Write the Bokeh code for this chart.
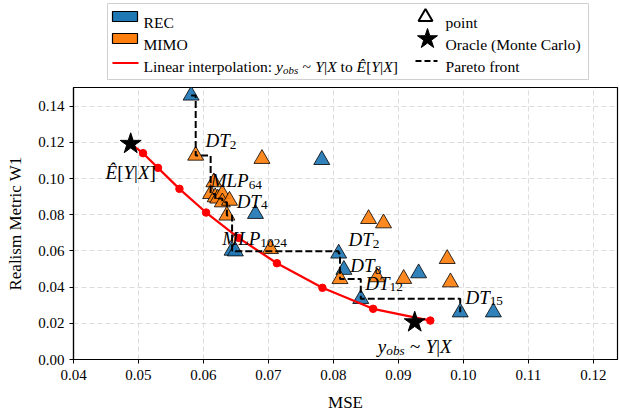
import numpy as np
from bokeh.plotting import figure
from bokeh.models import Range1d, ColumnDataSource, FixedTicker, NumeralTickFormatter
from bokeh.layouts import column
from bokeh.embed import file_html
from bokeh.resources import INLINE
from bokeh.core.properties import value

# ---------------- data ----------------
rec_mse = [0.0581, 0.0782, 0.0680, 0.0644, 0.0649, 0.0808, 0.0816, 0.0931, 0.0842, 0.0995, 0.1046]
rec_w1 = [0.1459, 0.1103, 0.0805, 0.0602, 0.0598, 0.0586, 0.0496, 0.0477, 0.0335, 0.0261, 0.0261]

mimo_mse = [0.0588, 0.0690, 0.0616, 0.0611, 0.0618, 0.0622, 0.0629, 0.0629, 0.0640, 0.0636,
            0.0703, 0.0854, 0.0877, 0.0810, 0.0867, 0.0908, 0.0975, 0.0980]
mimo_w1 = [0.1127, 0.1109, 0.0980, 0.0915, 0.0897, 0.0890, 0.0915, 0.0869, 0.0878, 0.0796,
           0.0611, 0.0777, 0.0753, 0.0445, 0.0455, 0.0446, 0.0556, 0.0427]

interp_mse = [0.0488, 0.0507, 0.0530, 0.0563, 0.0604, 0.0654, 0.0713, 0.0783, 0.0861, 0.0949]
interp_w1 = [0.1192, 0.1140, 0.1059, 0.0943, 0.0812, 0.0672, 0.0532, 0.0396, 0.0280, 0.0215]

oracle_mse = [0.0488, 0.0925]
oracle_w1 = [0.1192, 0.0206]

x_ticks = [0.04, 0.05, 0.06, 0.07, 0.08, 0.09, 0.10, 0.11, 0.12]
y_ticks = [0.00, 0.02, 0.04, 0.06, 0.08, 0.10, 0.12, 0.14]

# annotations: (main, sub, x, y, align)
annotations = [
    ("DT", "2", 0.0603, 0.1210, "left"),
    ("MLP", "64", 0.0611, 0.0989, "left"),
    ("DT", "4", 0.0651, 0.0875, "left"),
    ("MLP", "1024", 0.0629, 0.0667, "left"),
    ("DT", "2", 0.0823, 0.0661, "left"),
    ("DT", "8", 0.0826, 0.0519, "left"),
    ("DT", "12", 0.0849, 0.0422, "left"),
    ("DT", "15", 0.1003, 0.0344, "left"),
]
ehat_label = (0.0488, 0.1035)
yobs_label = (0.0925, 0.0072)

BLUE = "#1f77b4"
ORANGE = "#ff7f0e"
FONT = "Liberation Serif"

# ---------------- text layout helpers ----------------
IT_W = {'D': .722, 'T': .556, 'M': .833, 'L': .556, 'P': .611, 'E': .611, 'Ê': .611,
        'Y': .556, 'X': .611, 'y': .444, 'o': .5, 'b': .5, 's': .389, '|': .275,
        '[': .389, ']': .389, ' ': .25}
RG_W = {'[': .333, ']': .333, '|': .2, '~': .541, ' ': .25, 'L': .611, 'i': .278,
        'n': .5, 'e': .444, 'a': .444, 'r': .333, 't': .278, 'o': .5, 'p': .5,
        'l': .278, ':': .278}


def twidth(text, style, size):
    tab = IT_W if style == "italic" else RG_W
    return sum(tab.get(ch, 0.5) for ch in text) * size


def layout(segs, base):
    """segs: (text, style, scale, dy_em); style 'gap' advances by scale em only."""
    out = []
    x = 0.0
    for text, style, scale, dy in segs:
        if style == "gap":
            x += scale * base
            continue
        size = base * scale
        lead = len(text) - len(text.lstrip(" "))
        shown = text.strip(" ")
        if shown:
            out.append((shown, style, size, x + lead * 0.25 * size, dy * base))
        x += twidth(text, style, size)
    return out, x


def ehat_segs():
    return [("Ê", "italic", 1, 0), ("[", "normal", 1, 0), ("Y", "italic", 1, 0),
            ("|", "normal", 1, 0), ("X", "italic", 1, 0), ("]", "normal", 1, 0)]


def yobs_segs():
    return [("y", "italic", 1, 0), ("obs", "italic", 0.7, 0.22), ("", "gap", 0.28, 0),
            ("~", "normal", 1, 0), ("", "gap", 0.28, 0), ("Y", "italic", 1, 0),
            ("|", "normal", 1, 0), ("X", "italic", 1, 0)]


# ---------------- main figure ----------------
p = figure(frame_width=544, frame_height=272,
           x_range=Range1d(0.04, 0.1237), y_range=Range1d(0.0, 0.1503),
           output_backend="svg", toolbar_location=None,
           min_border_left=73, min_border_right=2, min_border_top=5, min_border_bottom=55,
           background_fill_color="white", border_fill_color="white")

p.outline_line_color = "black"
p.outline_line_width = 1.2
p.xaxis.ticker = FixedTicker(ticks=x_ticks)
p.yaxis.ticker = FixedTicker(ticks=y_ticks)
p.xaxis.formatter = NumeralTickFormatter(format="0.00")
p.yaxis.formatter = NumeralTickFormatter(format="0.00")
for ax in (p.xaxis, p.yaxis):
    ax.axis_line_color = "black"
    ax.axis_line_width = 1.2
    ax.major_tick_line_color = "black"
    ax.major_tick_out = 4
    ax.major_tick_in = 0
    ax.minor_tick_line_color = None
    ax.major_label_text_font = FONT
    ax.major_label_text_font_size = "15px"
    ax.major_label_text_color = "black"
    ax.axis_label_text_font = FONT
    ax.axis_label_text_font_size = "17px"
    ax.axis_label_text_font_style = "normal"
    ax.axis_label_text_color = "black"
p.xaxis.axis_label = "MSE"
p.yaxis.axis_label = "Realism Metric W1"
p.xaxis.major_label_standoff = 6
p.yaxis.major_label_standoff = 5
p.xaxis.axis_label_standoff = 10
p.yaxis.axis_label_standoff = 10

p.grid.grid_line_color = "#dcdcdc"
p.grid.grid_line_dash = "5 3"
p.grid.grid_line_width = 1

p.scatter(rec_mse, rec_w1, marker="triangle", size=16, fill_color=BLUE, fill_alpha=0.92,
          line_color="black", line_width=0.8)
p.scatter(mimo_mse, mimo_w1, marker="triangle", size=16, fill_color=ORANGE, fill_alpha=0.92,
          line_color="black", line_width=0.8)

p.line(interp_mse, interp_w1, line_color="red", line_width=2.2)
p.scatter(interp_mse[1:], interp_w1[1:], marker="circle", size=7.5, fill_color="red", line_color="red")

all_x = np.array(rec_mse + mimo_mse)
all_y = np.array(rec_w1 + mimo_w1)
order = np.argsort(all_x)
fx, fy = [], []
best = np.inf
for i in order:
    if all_y[i] < best:
        best = all_y[i]
        fx.append(all_x[i])
        fy.append(all_y[i])
p.step(fx, fy, mode="after", line_color="black", line_width=2, line_dash="7 3")

p.scatter(oracle_mse, oracle_w1, marker="star", size=22, fill_color="black", line_color="black", line_width=1)

rows = dict(x=[], y=[], xo=[], yo=[], text=[], style=[], size=[])


def add(store, segs, base, x, y, align="left"):
    pieces, total = layout(segs, base)
    shift = -total / 2 if align == "center" else 0.0
    for text, style, size, xo, yo in pieces:
        store["x"].append(x)
        store["y"].append(y)
        store["xo"].append(xo + shift)
        store["yo"].append(yo)
        store["text"].append(text)
        store["style"].append(style)
        store["size"].append(f"{size:.1f}px")


LBL = 19
for main, sub, x, y, align in annotations:
    add(rows, [(main, "italic", 1, 0), (sub, "normal", 0.7, 0.22)], LBL, x, y, align)
add(rows, ehat_segs(), LBL, ehat_label[0], ehat_label[1], "center")
add(rows, yobs_segs(), LBL, yobs_label[0], yobs_label[1], "center")

src = ColumnDataSource(rows)
p.text(x="x", y="y", text="text", x_offset="xo", y_offset="yo", source=src,
       text_font=value(FONT), text_font_size="size", text_font_style="style",
       text_color="black", text_baseline="alphabetic", text_align="left")

# ---------------- legend figure (pixel coordinates of the page) ----------------
leg = figure(frame_width=544, frame_height=82, x_range=Range1d(73, 617), y_range=Range1d(82, 0),
             output_backend="svg", toolbar_location=None,
             min_border_left=73, min_border_right=2, min_border_top=0, min_border_bottom=0,
             background_fill_color="white", border_fill_color="white")
leg.axis.visible = False
leg.grid.visible = False
leg.outline_line_color = None

leg.quad(left=107, right=588, top=3, bottom=79, fill_color="white", line_color="#cfcfcf", line_width=1)
leg.quad(left=112, right=137, top=11, bottom=21, fill_color=BLUE, line_color="black", line_width=1.2)
leg.quad(left=112, right=137, top=33, bottom=43, fill_color=ORANGE, line_color="black", line_width=1.2)
leg.line([112, 138], [62.5, 62.5], line_color="red", line_width=2.2)
leg.scatter([425], [16.5], marker="triangle", size=14, fill_color="white", line_color="black", line_width=2)
leg.scatter([427], [38.5], marker="star", size=21, fill_color="black", line_color="black")
leg.line([415, 437], [60.5, 60.5], line_color="black", line_width=2, line_dash="6 3")

LEG = 15.6
lrows = dict(x=[], y=[], xo=[], yo=[], text=[], style=[], size=[])
add(lrows, [("REC", "normal", 1, 0)], LEG, 143, 21.5)
add(lrows, [("MIMO", "normal", 1, 0)], LEG, 143, 43.5)
add(lrows, [("Linear interpolation: ", "normal", 1, 0)] + yobs_segs() +
    [(" to ", "normal", 1, 0)] + ehat_segs(), LEG, 143, 66)
add(lrows, [("point", "normal", 1, 0)], LEG, 445, 21.5)
add(lrows, [("Oracle (Monte Carlo)", "normal", 1, 0)], LEG, 445, 43.5)
add(lrows, [("Pareto front", "normal", 1, 0)], LEG, 445, 65.5)

lsrc = ColumnDataSource(lrows)
leg.text(x="x", y="y", text="text", x_offset="xo", y_offset="yo", source=lsrc,
         text_font=value(FONT), text_font_size="size", text_font_style="style",
         text_color="black", text_baseline="alphabetic", text_align="left")

page = column(leg, p, spacing=0)
open("out.html", "w").write(file_html(page, INLINE))
